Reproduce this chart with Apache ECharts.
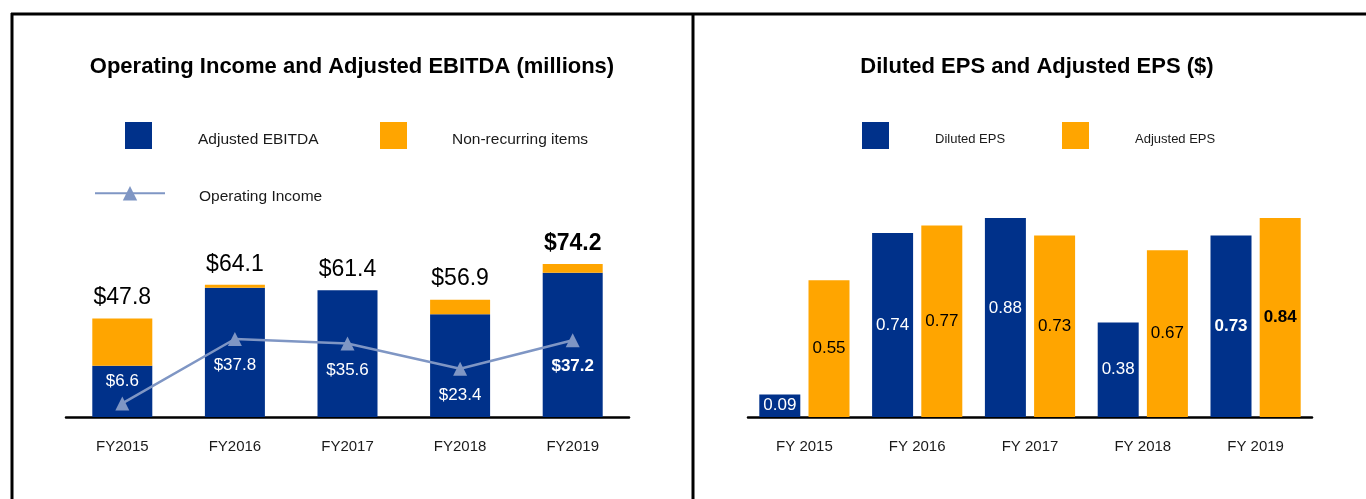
<!DOCTYPE html>
<html>
<head>
<meta charset="utf-8">
<title>Operating Income / EPS</title>
<script src="https://cdn.jsdelivr.net/npm/echarts@6/dist/echarts.min.js"></script>
<style>
html, body { margin: 0; padding: 0; background: #fff; }
#chart { width: 1366px; height: 499px; }
</style>
</head>
<body>
<div id="chart"></div>
<script>
// left panel, millions
const years = ['FY2015', 'FY2016', 'FY2017', 'FY2018', 'FY2019']
const ebitdaBase = [24.8, 62.7, 61.4, 49.8, 69.9]
const nonRecurring = [23.0, 1.4, 0, 7.1, 4.3]
const ebitdaTotal = [47.8, 64.1, 61.4, 56.9, 74.2]
const operatingIncome = [6.6, 37.8, 35.6, 23.4, 37.2]

// right panel, $ per share
const fyLabels = ['FY 2015', 'FY 2016', 'FY 2017', 'FY 2018', 'FY 2019']
const dilutedEps = [0.09, 0.74, 0.88, 0.38, 0.73]
const adjustedEps = [0.55, 0.77, 0.73, 0.67, 0.84]

const NAVY = '#00318a'
const ORANGE = '#ffa500'
const STEEL = '#7f96c4'
const FONT = "'Liberation Sans', Arial, sans-serif"
const last = years.length - 1

// one legend per entry so each can sit where the original puts it
function legendItem(name, left, top, fontSize, gap, extra) {
    return Object.assign({
        data: [name],
        left: left,
        top: top,
        padding: 0,
        icon: 'rect',
        itemWidth: 27,
        itemHeight: 27,
        selectedMode: false,
        formatter: '{t|{name}}',
        textStyle: {
            rich: {
                t: {
                    fontFamily: FONT,
                    fontSize: fontSize,
                    color: '#1a1a1a',
                    padding: [8, 0, 0, gap]
                }
            }
        }
    }, extra || {})
}

function boldLast(arr) {
    return arr.map((v, i) => i === last ? { value: v, label: { fontWeight: 'bold' } } : v)
}

const axisCommon = {
    type: 'category',
    axisTick: { show: false },
    axisLine: { lineStyle: { color: '#000', width: 2.5 } },
    axisLabel: { fontFamily: FONT, fontSize: 15, color: '#1a1a1a', margin: 22 }
}

const chart = echarts.init(document.getElementById('chart'))
chart.setOption({
    animation: false,
    title: [{
        text: 'Operating Income and Adjusted EBITDA (millions)',
        left: 352,
        top: 56,
        padding: 0,
        textAlign: 'center',
        textStyle: { fontFamily: FONT, fontSize: 22, fontWeight: 'bold', color: '#000' }
    }, {
        text: 'Diluted EPS and Adjusted EPS ($)',
        left: 1037,
        top: 56,
        padding: 0,
        textAlign: 'center',
        textStyle: { fontFamily: FONT, fontSize: 22, fontWeight: 'bold', color: '#000' }
    }],
    legend: [
        legendItem('Adjusted EBITDA', 125, 122, 15.5, 41),
        legendItem('Non-recurring items', 380, 122, 15.5, 40),
        legendItem('Operating Income', 94, 186, 15.5, 29, {
            icon: null,
            itemWidth: 70,
            itemHeight: 18
        }),
        legendItem('Diluted EPS', 862, 122, 13, 41),
        legendItem('Adjusted EPS', 1062, 122, 13, 41)
    ],
    grid: [
        { left: 66, right: 737, top: 252, height: 165 },
        { left: 748, right: 54, top: 218, height: 199 }
    ],
    xAxis: [
        Object.assign({ gridIndex: 0, data: years }, axisCommon),
        Object.assign({ gridIndex: 1, data: fyLabels }, axisCommon)
    ],
    yAxis: [
        { type: 'value', gridIndex: 0, min: 0, max: 80, show: false },
        // EPS axis tops out at 0.8, taller bars get cut off there
        { type: 'value', gridIndex: 1, min: 0, max: 0.8, show: false }
    ],
    series: [{
        name: 'Adjusted EBITDA',
        type: 'bar',
        stack: 'ebitda',
        barWidth: 60,
        itemStyle: { color: NAVY },
        data: ebitdaBase
    }, {
        name: 'Non-recurring items',
        type: 'bar',
        stack: 'ebitda',
        barWidth: 60,
        itemStyle: { color: ORANGE },
        label: {
            show: true,
            position: 'top',
            distance: 9,
            fontFamily: FONT,
            fontSize: 23,
            color: '#000',
            formatter: p => '$' + ebitdaTotal[p.dataIndex].toFixed(1)
        },
        data: boldLast(nonRecurring)
    }, {
        name: 'Operating Income',
        type: 'line',
        symbol: 'triangle',
        symbolSize: 14,
        z: 5,
        lineStyle: { color: STEEL, width: 2.5 },
        itemStyle: { color: STEEL },
        label: {
            show: true,
            fontFamily: FONT,
            fontSize: 17,
            color: '#fff',
            formatter: p => '$' + p.value.toFixed(1)
        },
        data: operatingIncome.map((v, i) => ({
            value: v,
            label: {
                position: i === 0 ? 'top' : 'bottom',
                distance: i === 0 ? 7 : 11,
                fontWeight: i === last ? 'bold' : 'normal'
            }
        }))
    }, {
        name: 'Diluted EPS',
        type: 'bar',
        xAxisIndex: 1,
        yAxisIndex: 1,
        barWidth: 41,
        barGap: '20%',
        itemStyle: { color: NAVY },
        label: {
            show: true,
            position: 'inside',
            fontFamily: FONT,
            fontSize: 17,
            color: '#fff',
            formatter: p => p.value.toFixed(2)
        },
        data: dilutedEps.map((v, i) => {
            if (i === last) return { value: v, label: { fontWeight: 'bold' } }
            if (i === 2) return { value: v, label: { offset: [0, -9] } }  // label sits higher on the cut-off bar
            return v
        })
    }, {
        name: 'Adjusted EPS',
        type: 'bar',
        xAxisIndex: 1,
        yAxisIndex: 1,
        barWidth: 41,
        barGap: '20%',
        itemStyle: { color: ORANGE },
        label: {
            show: true,
            position: 'inside',
            fontFamily: FONT,
            fontSize: 17,
            color: '#000',
            formatter: p => p.value.toFixed(2)
        },
        data: boldLast(adjustedEps)
    }],
    // panel frame lines
    graphic: [
        { type: 'line', shape: { x1: 11, y1: 14, x2: 1366, y2: 14 }, style: { stroke: '#000', lineWidth: 3 } },
        { type: 'line', shape: { x1: 12, y1: 13, x2: 12, y2: 499 }, style: { stroke: '#000', lineWidth: 3 } },
        { type: 'line', shape: { x1: 693, y1: 13, x2: 693, y2: 499 }, style: { stroke: '#000', lineWidth: 3 } }
    ]
})
</script>
</body>
</html>
